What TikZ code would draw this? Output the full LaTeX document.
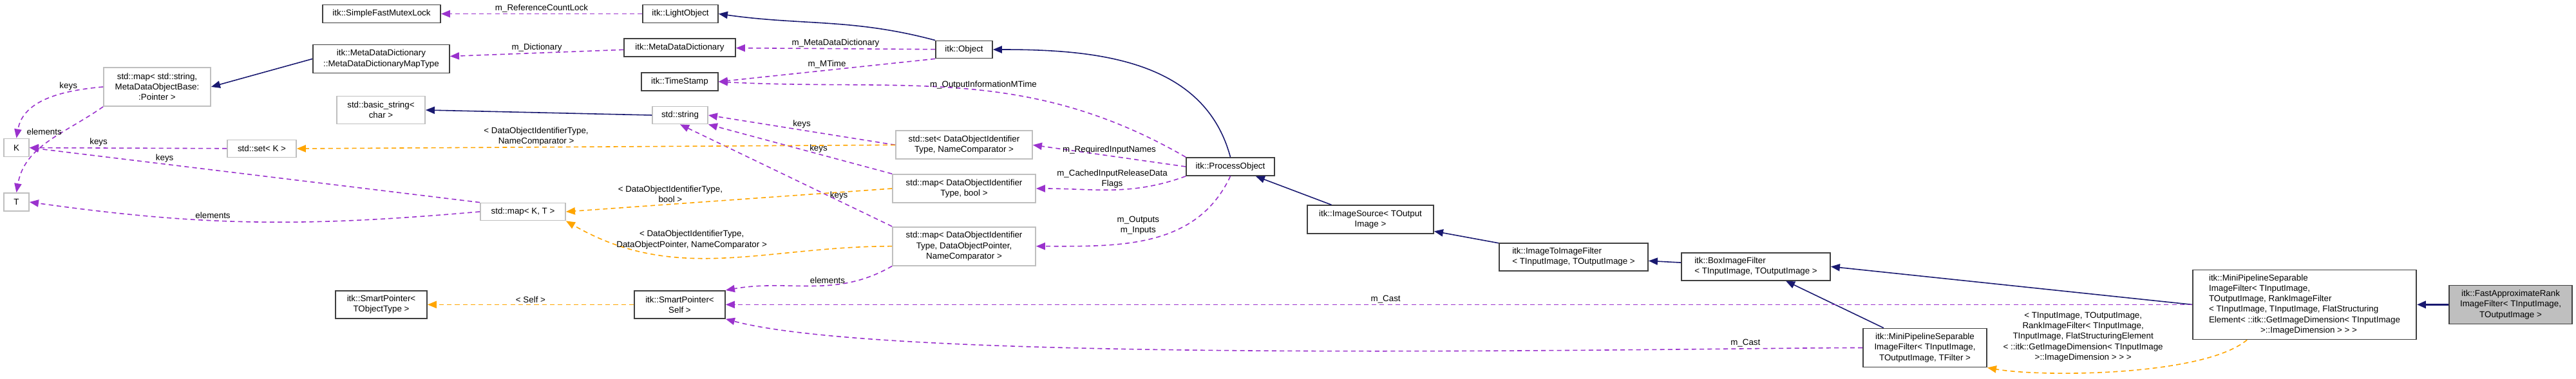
\documentclass[tikz,border=0pt]{standalone}
\usepackage{fontspec}
\setmainfont{Liberation Sans}
\usepackage{tikz}
\usetikzlibrary{arrows.meta}
\definecolor{inhblue}{HTML}{191970}
\definecolor{usepurple}{HTML}{9A32CD}
\definecolor{tmplorange}{HTML}{FFA500}
\definecolor{undocgrey}{HTML}{BFBFBF}
\tikzset{
  >={Triangle[length=4pt,width=3.2pt]},
  cls/.style={draw=black!75, line width=0.5pt, inner sep=0pt, align=center,
    font=\fontsize{3.8}{4.6}\selectfont},
  ext/.style={cls, draw=undocgrey},
  inh/.style={->, inhblue, line width=0.45pt},
  use/.style={->, usepurple, line width=0.45pt, dash pattern=on 2pt off 1.5pt},
  tmpl/.style={->, tmplorange, line width=0.45pt, dash pattern=on 2pt off 1.5pt},
  lbl/.style={text=black, font=\fontsize{3.8}{4.6}\selectfont, align=center, inner sep=0.5pt}
}
\begin{document}
\begin{tikzpicture}
\useasboundingbox (0,0) rectangle (40,5.89);
% classes
\node[cls, minimum width=1.83cm, minimum height=0.28cm] (mutex) at (5.925,5.675) {itk::SimpleFastMutexLock};
\node[cls, minimum width=1.17cm, minimum height=0.28cm] (light) at (10.565,5.675) {itk::LightObject};
\node[cls, minimum width=1.73cm, minimum height=0.28cm] (mdd) at (10.555,5.15) {itk::MetaDataDictionary};
\node[cls, minimum width=1.19cm, minimum height=0.28cm] (stamp) at (10.555,4.62) {itk::TimeStamp};
\node[cls, minimum width=0.88cm, minimum height=0.27cm] (obj) at (14.97,5.12) {itk::Object};
\node[cls, minimum width=2.12cm, minimum height=0.44cm] (maptype) at (5.92,4.975) {itk::MetaDataDictionary\\::MetaDataDictionaryMapType};
\node[ext, minimum width=1.66cm, minimum height=0.60cm] (mapstr) at (2.44,4.54) {std::map< std::string,\\MetaDataObjectBase:\\:Pointer >};
\node[ext, minimum width=1.37cm, minimum height=0.43cm] (basic) at (5.915,4.18) {std::basic\_string<\\char >};
\node[ext, minimum width=0.86cm, minimum height=0.27cm] (str) at (10.56,4.10) {std::string};
\node[ext, minimum width=0.39cm, minimum height=0.28cm] (K) at (0.255,3.595) {K};
\node[ext, minimum width=0.39cm, minimum height=0.28cm] (T) at (0.255,2.75) {T};
\node[ext, minimum width=1.07cm, minimum height=0.27cm] (setK) at (4.065,3.58) {std::set< K >};
\node[ext, minimum width=1.32cm, minimum height=0.27cm] (mapKT) at (8.12,2.60) {std::map< K, T >};
\node[cls, minimum width=1.42cm, minimum height=0.43cm] (spT) at (5.92,1.156) {itk::SmartPointer<\\TObjectType >};
\node[cls, minimum width=1.41cm, minimum height=0.43cm] (spSelf) at (10.555,1.156) {itk::SmartPointer<\\Self >};
\node[ext, minimum width=2.12cm, minimum height=0.44cm] (setId) at (14.97,3.637) {std::set< DataObjectIdentifier\\Type, NameComparator >};
\node[ext, minimum width=2.22cm, minimum height=0.44cm] (mapBool) at (14.97,2.96) {std::map< DataObjectIdentifier\\Type, bool >};
\node[ext, minimum width=2.22cm, minimum height=0.60cm] (mapPtr) at (14.97,2.063) {std::map< DataObjectIdentifier\\Type, DataObjectPointer,\\NameComparator >};
\node[cls, minimum width=1.37cm, minimum height=0.28cm] (proc) at (19.105,3.30) {itk::ProcessObject};
\node[cls, minimum width=1.96cm, minimum height=0.44cm] (source) at (21.28,2.478) {itk::ImageSource< TOutput\\Image >};
\node[cls, minimum width=2.31cm, minimum height=0.43cm, align=left] (i2i) at (24.435,1.898) {itk::ImageToImageFilter\\< TInputImage, TOutputImage >};
\node[cls, minimum width=2.31cm, minimum height=0.43cm, align=left] (box) at (27.265,1.747) {itk::BoxImageFilter\\< TInputImage, TOutputImage >};
\node[cls, minimum width=1.92cm, minimum height=0.60cm] (minisep) at (29.89,0.485) {itk::MiniPipelineSeparable\\ImageFilter< TInputImage,\\TOutputImage, TFilter >};
\node[cls, minimum width=3.47cm, minimum height=1.08cm, align=left] (minirank) at (35.785,1.156) {itk::MiniPipelineSeparable\\ImageFilter< TInputImage,\\ TOutputImage, RankImageFilter\\< TInputImage, TInputImage, FlatStructuring\\Element< ::itk::GetImageDimension< TInputImage\\\hspace*{0.8cm}>::ImageDimension > > >};
\node[cls, fill=undocgrey, minimum width=1.91cm, minimum height=0.60cm] (fast) at (38.985,1.156) {itk::FastApproximateRank\\ImageFilter< TInputImage,\\TOutputImage >};
% inheritance
\draw[inh] (obj.north west) to[out=165,in=-8] (light.east);
\draw[inh] (maptype.west) -- (mapstr.east);
\draw[inh] (str.west) -- (basic.east);
\draw[inh] (proc.north) to[out=105,in=0] (obj.east);
\draw[inh] (source) -- (proc);
\draw[inh] (i2i) -- (source);
\draw[inh] (box) -- (i2i);
\draw[inh] (minisep) -- (box);
\draw[inh] (minirank.west) -- (box.east);
\draw[inh, line width=0.9pt] (fast) -- (minirank);
% usage
\draw[use] (light) -- node[lbl, above] {m\_ReferenceCountLock} (mutex);
\draw[use] (mdd) -- node[lbl, above] {m\_Dictionary} (maptype);
\draw[use] (obj) -- node[lbl, above] {m\_MetaDataDictionary} (mdd);
\draw[use] (obj.south west) -- node[lbl, above] {m\_MTime} (stamp.east);
\draw[use] (mapstr.west) to[out=185,in=80] node[lbl, above, pos=0.3] {keys} (K.north);
\draw[use] (mapstr.south west) to[out=-145,in=80] node[lbl, left, pos=0.35] {elements} (T.north);
\draw[use] (setK) -- node[lbl, above, pos=0.65] {keys} (K);
\draw[use] (mapKT.north west) -- node[lbl, above, pos=0.7] {keys} (K.east);
\draw[use] (mapKT.west) to[out=185,in=-8] node[lbl, above, pos=0.6] {elements} (T.east);
\draw[use] (setId.west) -- node[lbl, above] {keys} (str.east);
\draw[use] (mapBool.north west) -- node[lbl, above, pos=0.4] {keys} (str.south east);
\draw[use] (mapPtr.north west) -- node[lbl, right, pos=0.3] {keys} (str.south);
\draw[use] (mapPtr.south west) to[out=-150,in=10] node[lbl, above, pos=0.4] {elements} (spSelf.north east);
\draw[use] (proc.north west) to[out=150,in=-3] node[lbl, above, pos=0.45] {m\_OutputInformationMTime} (stamp.east);
\draw[use] (proc.west) -- node[lbl, above] {m\_RequiredInputNames} (setId.east);
\draw[use] (proc.south west) to[out=-160,in=0] node[lbl, above, pos=0.5] {m\_CachedInputReleaseData\\Flags} (mapBool.east);
\draw[use] (proc.south) to[out=-115,in=0] node[lbl, above left, pos=0.45] {m\_Outputs\\m\_Inputs} (mapPtr.east);
\draw[use] (minirank.west) -- node[lbl, above, pos=0.55] {m\_Cast} (spSelf.east);
\draw[use] (minisep.west) to[out=180,in=-15, looseness=0.4] node[lbl, above, pos=0.15] {m\_Cast} (spSelf.south east);
% template instances
\draw[tmpl] (spSelf) -- node[lbl, above] {< Self >} (spT);
\draw[tmpl] (setId.west) -- node[lbl, above, pos=0.6] {< DataObjectIdentifierType,\\NameComparator >} (setK.east);
\draw[tmpl] (mapBool.west) -- node[lbl, above, pos=0.68] {< DataObjectIdentifierType,\\bool >} (mapKT.east);
\draw[tmpl] (mapPtr.west) to[out=180,in=-30] node[lbl, above=3pt, pos=0.6] {< DataObjectIdentifierType,\\DataObjectPointer, NameComparator >} (mapKT.south east);
\draw[tmpl] ([xshift=0.85cm]minirank.south west) to[out=-140,in=-10, looseness=0.55] node[lbl, pos=0.5, anchor=south, yshift=0.12cm, xshift=-0.6cm] {< TInputImage, TOutputImage,\\RankImageFilter< TInputImage,\\TInputImage, FlatStructuringElement\\< ::itk::GetImageDimension< TInputImage\\>::ImageDimension > > >} (minisep.south east);
\end{tikzpicture}
\end{document}
